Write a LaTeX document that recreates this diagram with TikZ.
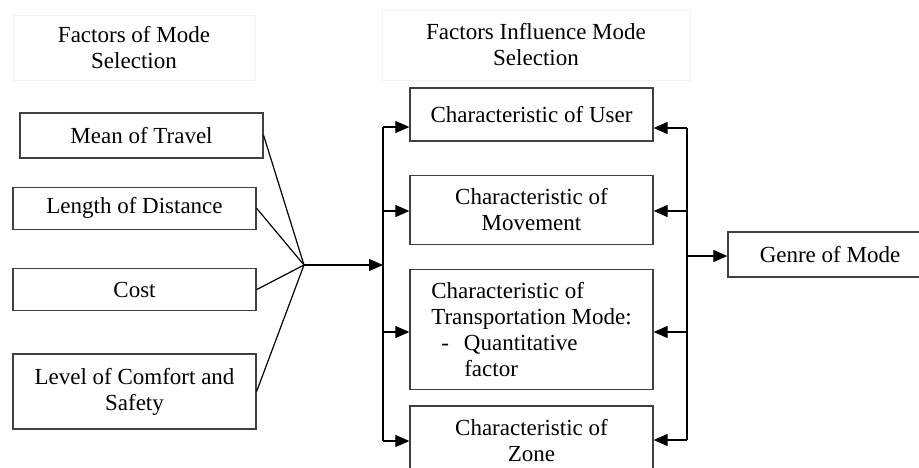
\documentclass[tikz,border=0pt]{standalone}
\usepackage{fontspec}
\setmainfont{Liberation Serif}
\usetikzlibrary{arrows.meta, positioning}

\begin{document}
\begin{tikzpicture}[x=1pt, y=-1pt,
        factor/.style={rectangle, draw=black!75, line width=1.3pt, fill=white, align=center, minimum width=243pt, inner sep=0pt, font=\fontsize{23}{26}\selectfont},
        header/.style={rectangle, draw=black!5, line width=0.8pt, align=center, inner sep=0pt, font=\fontsize{23}{26}\selectfont},
        link/.style={line width=1.2pt},
        relation/.style={-{Triangle[length=14pt, width=12pt]}, line width=1.2pt}
    ]
            \path[use as bounding box, clip] (0,0) rectangle (919,467);

            \node[header, minimum width=242pt, minimum height=65pt] (lefthead) at (134,47.5) {Factors of Mode\\Selection};
            \node[header, minimum width=308pt, minimum height=70pt] (midhead) at (536,45) {Factors Influence Mode\\Selection};

            % Factors of mode selection
            \node[factor, minimum height=45pt] (travel) at (141.5,135.5) {Mean of Travel};
            \node[factor, minimum height=42pt, below=28pt of travel, xshift=-7pt] (distance) {Length of Distance};
            \node[factor, minimum height=42pt, below=38pt of distance] (cost) {Cost};
            \node[factor, minimum height=75pt, below=42pt of cost] (comfort) {Level of Comfort and\\Safety};

            % Factors influence mode selection
            \node[factor, minimum height=53pt] (user) at (531.5,114.5) {Characteristic of User};
            \node[factor, minimum height=69pt, below=33pt of user] (movement) {Characteristic of\\Movement};
            \node[factor, minimum height=120pt, below=24pt of movement, align=left] (transport) {Characteristic of\\Transportation Mode:\\\hspace*{10pt}-\hspace*{15pt}Quantitative\\\hspace*{33pt}factor};
            \node[factor, minimum height=69pt, below=15pt of transport] (zone) {Characteristic of\\Zone};

            \node[factor, minimum width=204pt, minimum height=45pt] (genre) at (830,254.5) {Genre of Mode};

            \coordinate (hub) at (304,265);
            \coordinate (inbus) at (383,265);
            \coordinate (genretap) at (687,256);

            % Relations
            \foreach \n in {travel, distance, cost, comfort}
                \draw[link] (\n.east) -- (hub);
            \draw[relation] (hub) -- (inbus);

            \foreach \y/\n in {127/user, 211/movement, 332/transport, 441/zone} {
                \coordinate (l-\n) at (383,\y);
                \draw[relation] (l-\n) -- (l-\n -| \n.west);
            }
            \foreach \y/\n in {128/user, 211/movement, 332/transport, 440/zone} {
                \coordinate (r-\n) at (687,\y);
                \draw[relation] (r-\n) -- (r-\n -| \n.east);
            }
            \draw[link] (l-user) -- (l-zone);
            \draw[link] (r-user) -- (r-zone);
            \draw[relation] (genretap) -- (genretap -| genre.west);
    \end{tikzpicture}
\end{document}
